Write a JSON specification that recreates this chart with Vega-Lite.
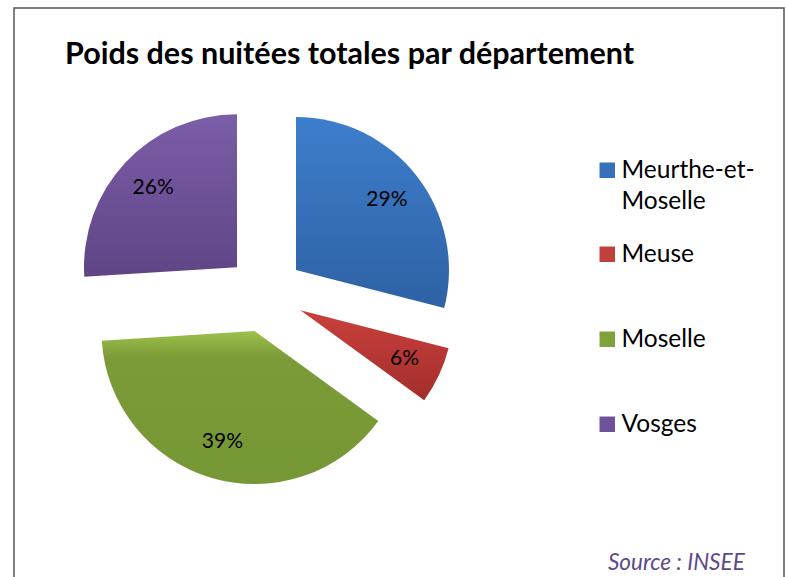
{
  "$schema": "https://vega.github.io/schema/vega-lite/v6.json",
  "width": 770,
  "height": 571,
  "autosize": "none",
  "padding": {"left": 14, "top": 8, "right": 2, "bottom": 0},
  "background": "white",
  "view": {"stroke": "#555555", "strokeWidth": 1.5},
  "title": {
    "text": "Poids des nuitées totales par département",
    "anchor": "start",
    "frame": "group",
    "orient": "top",
    "offset": 0,
    "dx": 51,
    "dy": 86,
    "baseline": "alphabetic",
    "font": "Lato",
    "fontSize": 30.5,
    "fontWeight": "bold",
    "color": "#000000"
  },
  "config": {
    "font": "Lato",
    "legend": {
      "orient": "none",
      "legendX": 581,
      "title": null,
      "symbolType": "square",
      "symbolSize": 240,
      "symbolStrokeWidth": 0,
      "labelFont": "Lato",
      "labelFontSize": 24.5,
      "labelColor": "#000000",
      "labelOffset": 2,
      "labelBaseline": "alphabetic",
      "labelLimit": 300
    }
  },
  "layer": [
    {
      "data": {
        "values": [
          {"departement": "Meurthe-et-Moselle", "part": 29, "etiquette": "29%", "ordre": 1},
          {"departement": "Meuse", "part": 6, "etiquette": "6%", "ordre": 2},
          {"departement": "Moselle", "part": 39, "etiquette": "39%", "ordre": 3},
          {"departement": "Vosges", "part": 26, "etiquette": "26%", "ordre": 4}
        ]
      },
      "transform": [
        {"stack": "part", "groupby": [], "sort": [{"field": "ordre", "order": "ascending"}], "as": ["debut", "fin"]}
      ],
      "resolve": {"scale": {"color": "independent"}, "legend": {"color": "independent"}},
      "layer": [
        {
          "transform": [{"filter": "datum.ordre == 1"}],
          "mark": {"type": "arc", "x": 251.3, "y": 285.8, "xOffset": 30.7, "yOffset": -23.8, "radius": 153},
          "encoding": {
            "theta": {"field": "debut", "type": "quantitative", "scale": {"domain": [0, 100]}},
            "theta2": {"field": "fin"},
            "color": {
              "condition": {"test": "datum.part > 0", "value": {"gradient": "linear", "x1": 0, "y1": 0, "x2": 0, "y2": 1, "stops": [{"offset": 0, "color": "#3D7ECC"}, {"offset": 1, "color": "#2E61A4"}]}},
              "field": "departement", "type": "nominal",
              "scale": {"range": ["#3670BA"]},
              "legend": {
                "legendY": 150,
                "labelExpr": "datum.label == 'Meurthe-et-Moselle' ? ['Meurthe-et-', 'Moselle'] : datum.label",
                "encoding": {"labels": {"dy": {"value": 8}, "lineHeight": {"value": 31}}}
              }
            }
          }
        },
        {
          "transform": [{"filter": "datum.ordre == 2"}],
          "mark": {"type": "arc", "x": 251.3, "y": 285.8, "xOffset": 35.1, "yOffset": 16.5, "radius": 153},
          "encoding": {
            "theta": {"field": "debut", "type": "quantitative"},
            "theta2": {"field": "fin"},
            "color": {
              "condition": {"test": "datum.part > 0", "value": {"gradient": "linear", "x1": 0, "y1": 0, "x2": 0, "y2": 1, "stops": [{"offset": 0, "color": "#C9403D"}, {"offset": 1, "color": "#A32E2B"}]}},
              "field": "departement", "type": "nominal",
              "scale": {"range": ["#C0403C"]},
              "legend": {"legendY": 234, "encoding": {"labels": {"dy": {"value": 8}}}}
            }
          }
        },
        {
          "transform": [{"filter": "datum.ordre == 3"}],
          "mark": {"type": "arc", "x": 251.3, "y": 285.8, "xOffset": -10.8, "yOffset": 37.3, "radius": 153},
          "encoding": {
            "theta": {"field": "debut", "type": "quantitative"},
            "theta2": {"field": "fin"},
            "color": {
              "condition": {"test": "datum.part > 0", "value": {"gradient": "linear", "x1": 0, "y1": 0, "x2": 0, "y2": 1, "stops": [{"offset": 0, "color": "#9DC04C"}, {"offset": 0.18, "color": "#7A9B37"}, {"offset": 1, "color": "#769735"}]}},
              "field": "departement", "type": "nominal",
              "scale": {"range": ["#7FA23A"]},
              "legend": {"legendY": 319, "encoding": {"labels": {"dy": {"value": 8}}}}
            }
          }
        },
        {
          "transform": [{"filter": "datum.ordre == 4"}],
          "mark": {"type": "arc", "x": 251.3, "y": 285.8, "xOffset": -28.3, "yOffset": -26.6, "radius": 153},
          "encoding": {
            "theta": {"field": "debut", "type": "quantitative"},
            "theta2": {"field": "fin"},
            "color": {
              "condition": {"test": "datum.part > 0", "value": {"gradient": "linear", "x1": 0, "y1": 0, "x2": 0, "y2": 1, "stops": [{"offset": 0, "color": "#7C5DA8"}, {"offset": 1, "color": "#5F4586"}]}},
              "field": "departement", "type": "nominal",
              "scale": {"range": ["#6F529A"]},
              "legend": {"legendY": 404, "encoding": {"labels": {"dy": {"value": 8}}}}
            }
          }
        },
        {
          "mark": {
            "type": "text", "x": 251.3, "y": 285.8, "radius": 115, "fontSize": 21, "font": "Lato", "color": "#000000",
            "xOffset": {"expr": "datum.ordre == 1 ? 30.7 : datum.ordre == 2 ? 35.1 : datum.ordre == 3 ? -10.8 : -28.3"},
            "yOffset": {"expr": "datum.ordre == 1 ? -23.8 : datum.ordre == 2 ? 16.5 : datum.ordre == 3 ? 37.3 : -26.6"}
          },
          "encoding": {
            "theta": {"field": "part", "type": "quantitative", "stack": true},
            "order": {"field": "ordre", "type": "quantitative"},
            "detail": {"field": "departement", "type": "nominal"},
            "text": {"field": "etiquette"}
          }
        }
      ]
    },
    {
      "data": {"values": [{"note": "Source : INSEE"}]},
      "mark": {"type": "text", "x": 594, "y": 562, "align": "left", "baseline": "alphabetic", "font": "Lato", "fontSize": 22.5, "fontStyle": "italic", "color": "#5E4A8A"},
      "encoding": {"text": {"field": "note"}}
    }
  ]
}
